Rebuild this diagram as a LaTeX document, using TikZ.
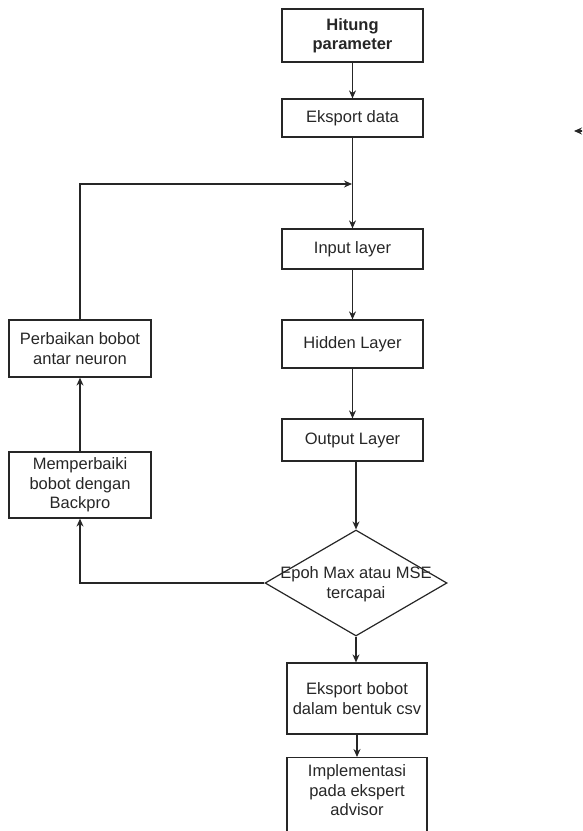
\documentclass[tikz,border=0pt]{standalone}
\usepackage{fontspec}
\setmainfont{Liberation Sans}
\usetikzlibrary{shapes.geometric,arrows.meta}
\begin{document}
\begin{tikzpicture}[x=1pt,y=-1pt,
  box/.style={draw=black!85,line width=1.2pt,align=center,inner sep=0pt,font=\fontsize{16.5}{19.5}\selectfont,text=black!85},
  dec/.style={draw=black!85,line width=1.2pt,diamond,align=center,inner sep=0pt},
  conn/.style={draw=black!85,line width=1.2pt,-{Stealth[length=8pt,width=7pt]}},
  lbl/.style={font=\fontsize{16.5}{19.5}\selectfont,text=black!85,align=center}]
\useasboundingbox (0,0) rectangle (582,831);
\begin{scope}
\clip (0,0) rectangle (582,831);
\node[box,minimum width=141pt,minimum height=53pt,font=\bfseries\fontsize{16.5}{19.5}\selectfont] (hit) at (352.5,35.5) {Hitung\\parameter};
\node[box,minimum width=141pt,minimum height=38pt] (eks) at (352.5,118) {Eksport data};
\node[box,minimum width=141pt,minimum height=40pt] (inp) at (352.5,249) {Input layer};
\node[box,minimum width=141pt,minimum height=48pt] (hid) at (352.5,344) {Hidden Layer};
\node[box,minimum width=141pt,minimum height=42pt] (out) at (352.5,440) {Output Layer};
\node[dec,minimum width=182pt,minimum height=106pt,aspect=1.717] (epo) at (356,583) {};
\node[lbl] (epot) at (356,584) {Epoh Max atau MSE\\tercapai};
\node[box,minimum width=142pt,minimum height=57pt] (per) at (80,348.5) {Perbaikan bobot\\antar neuron};
\node[box,minimum width=142pt,minimum height=66pt] (mem) at (80,485) {Memperbaiki\\bobot dengan\\Backpro};
\node[box,minimum width=140pt,minimum height=71pt] (ebo) at (357,698.5) {Eksport bobot\\dalam bentuk csv};
\node[box,minimum width=140pt,minimum height=90pt,anchor=north] (imp) at (357,757) {};
\node[lbl,anchor=north] (impt) at (357,761) {Implementasi\\pada ekspert\\advisor};
\coordinate (join) at (352,184);
\coordinate (c1) at (80,184);
\coordinate (c2) at (80,583);
\coordinate (s1) at (584,131);
\coordinate (s2) at (574,131);
\draw[conn] (hit) -- (eks);
\draw[conn] (eks) -- (inp);
\draw[conn] (per.north) -- (c1) -- (join);
\draw[conn] (inp) -- (hid);
\draw[conn] (hid) -- (out);
\draw[conn] (out.south -| epo.north) -- (epo.north);
\draw[conn] (epo.west) -- (c2) -- (mem.south);
\draw[conn] (mem) -- (per);
\draw[conn] (epo.south) -- (epo.south |- ebo.north);
\draw[conn] (ebo) -- (imp);
\draw[conn] (s1) -- (s2);
\end{scope}
\end{tikzpicture}
\end{document}
